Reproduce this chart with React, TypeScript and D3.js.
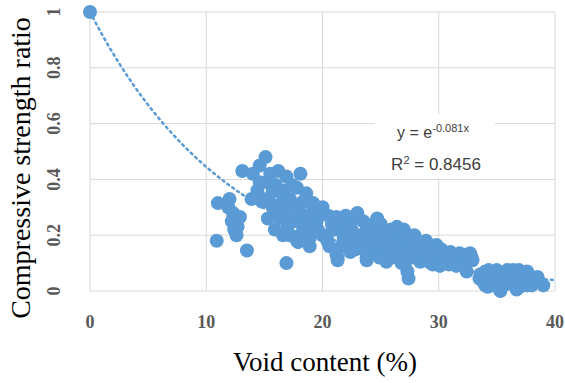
import React from 'react';
import * as d3 from 'd3';

// void content (%) and compressive strength ratio
const voidContent = [
  0,
  11.0, 10.9, 12.0, 12.3, 12.2, 12.7, 12.6, 12.9, 11.9, 12.4, 13.5, 13.1,
  15.1, 14.6, 14.0, 16.2, 18.1, 16.9, 15.2, 14.6, 17.8, 15.7, 13.9, 15.2, 16.6, 18.3,
  15.8, 16.9, 18.1, 19.2, 19.8, 16.3, 17.5, 18.7, 19.5, 15.9, 16.6, 17.8, 18.9, 18.3,
  20.0, 18.9, 17.9, 16.9, 14.4, 15.5, 16.0, 17.2, 17.5, 16.4, 18.5, 19.0, 19.6, 17.0, 15.3,
  16.7, 17.4, 18.6, 19.4, 18.2, 17.2, 16.0, 14.8, 15.6,
  19.2, 19.8, 21.2, 23.0, 22.1, 23.8, 22.6, 21.2, 21.3, 23.8, 20.4, 17.8,
  20.0, 21.5, 23.0, 24.1, 25.5, 26.7, 28.1, 29.2, 22.6, 24.1, 25.5, 26.9, 28.4, 29.5,
  21.3, 23.8, 25.5, 27.4, 27.3, 20.4, 22.1,
  20.5, 21.0, 21.4, 22.0, 22.5, 22.8, 21.8, 22.4, 20.6, 21.9,
  23.5, 23.5, 23.9, 24.3, 24.7, 25.0, 25.3, 25.7, 25.9, 24.0, 24.9, 25.4,
  24.5, 25.0, 25.8, 26.2, 27.0, 27.6, 28.0, 28.6, 29.0, 26.0, 27.8, 24.8, 23.2, 22.9,
  24.4, 25.2, 26.4, 27.2, 28.8, 29.6, 21.0, 21.8, 22.3, 20.8, 21.6,
  26.3, 26.6, 27.0, 27.4, 27.5, 27.9, 28.2, 28.5, 28.9, 26.8, 27.1, 29.3, 29.4,
  29.8, 30.7, 31.8, 32.7, 30.1, 31.5, 32.4, 34.0, 35.0, 36.4, 37.6, 38.5, 39.0,
  34.2, 35.3, 36.7, 37.6, 33.5, 35.0, 36.1, 37.0, 32.4, 31.0,
  30.4, 31.2, 32.0, 32.9, 31.7, 30.9,
  30.2, 30.6, 31.0, 31.4, 31.9, 32.3, 32.8, 30.0,
  33.6, 34.4, 35.5, 36.0, 36.8, 34.8, 35.8, 36.4, 37.2, 38.1, 33.8, 35.2, 37.8, 38.6,
  33.9, 34.3, 34.6, 35.1, 35.6, 36.2, 36.6, 37.0, 37.4, 38.0, 34.0, 36.9, 35.9,
];

const strengthRatio = [
  1.0,
  0.315, 0.18, 0.33, 0.28, 0.25, 0.23, 0.2, 0.265, 0.3, 0.22, 0.145, 0.43,
  0.48, 0.45, 0.42, 0.43, 0.42, 0.41, 0.39, 0.39, 0.37, 0.355, 0.33, 0.33, 0.325, 0.32,
  0.3, 0.28, 0.28, 0.3, 0.28, 0.26, 0.25, 0.255, 0.25, 0.22, 0.2, 0.195, 0.19, 0.21,
  0.2, 0.16, 0.175, 0.1, 0.36, 0.42, 0.38, 0.33, 0.3, 0.31, 0.27, 0.23, 0.22, 0.23, 0.26,
  0.36, 0.38, 0.35, 0.27, 0.24, 0.2, 0.27, 0.32, 0.31,
  0.315, 0.29, 0.265, 0.27, 0.23, 0.22, 0.18, 0.13, 0.11, 0.12, 0.18, 0.18,
  0.3, 0.26, 0.28, 0.23, 0.21, 0.195, 0.175, 0.16, 0.175, 0.165, 0.14, 0.13, 0.105, 0.095,
  0.12, 0.11, 0.105, 0.045, 0.07, 0.2, 0.225,
  0.27, 0.25, 0.23, 0.27, 0.22, 0.26, 0.18, 0.14, 0.16, 0.24,
  0.25, 0.17, 0.14, 0.2, 0.26, 0.24, 0.19, 0.15, 0.22, 0.18, 0.12, 0.12,
  0.19, 0.17, 0.18, 0.16, 0.15, 0.16, 0.14, 0.13, 0.12, 0.12, 0.12, 0.14, 0.2, 0.15,
  0.24, 0.22, 0.23, 0.2, 0.15, 0.13, 0.22, 0.2, 0.25, 0.24, 0.16,
  0.19, 0.14, 0.22, 0.18, 0.13, 0.2, 0.16, 0.11, 0.18, 0.1, 0.1, 0.1, 0.14,
  0.165, 0.13, 0.135, 0.135, 0.09, 0.09, 0.07, 0.07, 0.075, 0.075, 0.07, 0.05, 0.02,
  0.015, 0.0, 0.005, 0.02, 0.045, 0.04, 0.04, 0.045, 0.105, 0.105,
  0.12, 0.115, 0.12, 0.11, 0.1, 0.095,
  0.15, 0.11, 0.14, 0.125, 0.11, 0.13, 0.125, 0.12,
  0.06, 0.055, 0.06, 0.06, 0.06, 0.03, 0.025, 0.025, 0.035, 0.04, 0.035, 0.05, 0.055, 0.035,
  0.05, 0.075, 0.02, 0.015, 0.04, 0.07, 0.045, 0.015, 0.06, 0.02, 0.02, 0.075, 0.075,
];

const xTicks = [0, 10, 20, 30, 40];
const yTicks = [0, 0.2, 0.4, 0.6, 0.8, 1];
const trendK = -0.081;
const rSquared = '0.8456';

const W = 565;
const H = 383;
const blue = '#5b9bd5';

export default function App() {
  const x = d3.scaleLinear().domain([0, 40]).range([90, 555]);
  const y = d3.scaleLinear().domain([0, 1]).range([291, 12]);

  const trendPts = d3.range(0, 40.01, 0.25).map(v => [v, Math.exp(trendK * v)] as [number, number]);
  const line = d3.line<[number, number]>()
    .x(d => x(d[0]))
    .y(d => y(d[1]));

  const points = voidContent.map((v, i) => ({ v, r: strengthRatio[i] }));

  return (
    <svg width={W} height={H} style={{ position: 'absolute', left: 0, top: 0, background: '#fff' }}>
      {/* grid */}
      {yTicks.map(t => (
        <line key={'gy' + t} x1={x(0)} x2={x(40)} y1={y(t)} y2={y(t)} stroke="#d9d9d9" strokeWidth={1} />
      ))}
      {xTicks.map(t => (
        <line key={'gx' + t} x1={x(t)} x2={x(t)} y1={y(0)} y2={y(1)} stroke="#d9d9d9" strokeWidth={1} />
      ))}

      {/* equation label box */}
      <rect x={375} y={114} width={120} height={64} fill="#fff" />
      <text x={433} y={138} textAnchor="middle" fontFamily="Liberation Sans, sans-serif" fontSize={16} fill="#404040">
        y = e<tspan dy={-6} fontSize={11}>{trendK.toString()}x</tspan>
      </text>
      <text x={436} y={170} textAnchor="middle" fontFamily="Liberation Sans, sans-serif" fontSize={17} fill="#404040">
        R<tspan dy={-6} fontSize={11}>2</tspan><tspan dy={6}> = {rSquared}</tspan>
      </text>

      {/* trend line */}
      <path d={line(trendPts) ?? ''} fill="none" stroke={blue} strokeWidth={2.5}
        strokeDasharray="2 4" strokeLinecap="round" />

      {/* markers */}
      {points.map((p, i) => (
        <circle key={i} cx={x(p.v)} cy={y(p.r)} r={7} fill={blue} />
      ))}

      {/* tick labels */}
      {xTicks.map(t => (
        <text key={'tx' + t} x={x(t)} y={328} textAnchor="middle" fontFamily="Liberation Serif, serif"
          fontWeight="bold" fontSize={18} fill="#595959">{t}</text>
      ))}
      {yTicks.map(t => (
        <text key={'ty' + t} transform={`translate(60,${y(t)}) rotate(-90)`} textAnchor="middle"
          fontFamily="Liberation Serif, serif" fontWeight="bold" fontSize={18} fill="#595959">{t}</text>
      ))}

      {/* axis titles */}
      <text x={325} y={371} textAnchor="middle" fontFamily="Liberation Serif, serif" fontSize={27} fill="#000">
        Void content (%)
      </text>
      <text transform="translate(30,168) rotate(-90)" textAnchor="middle" fontFamily="Liberation Serif, serif"
        fontSize={28} fill="#000">Compressive strength ratio</text>
    </svg>
  );
}
